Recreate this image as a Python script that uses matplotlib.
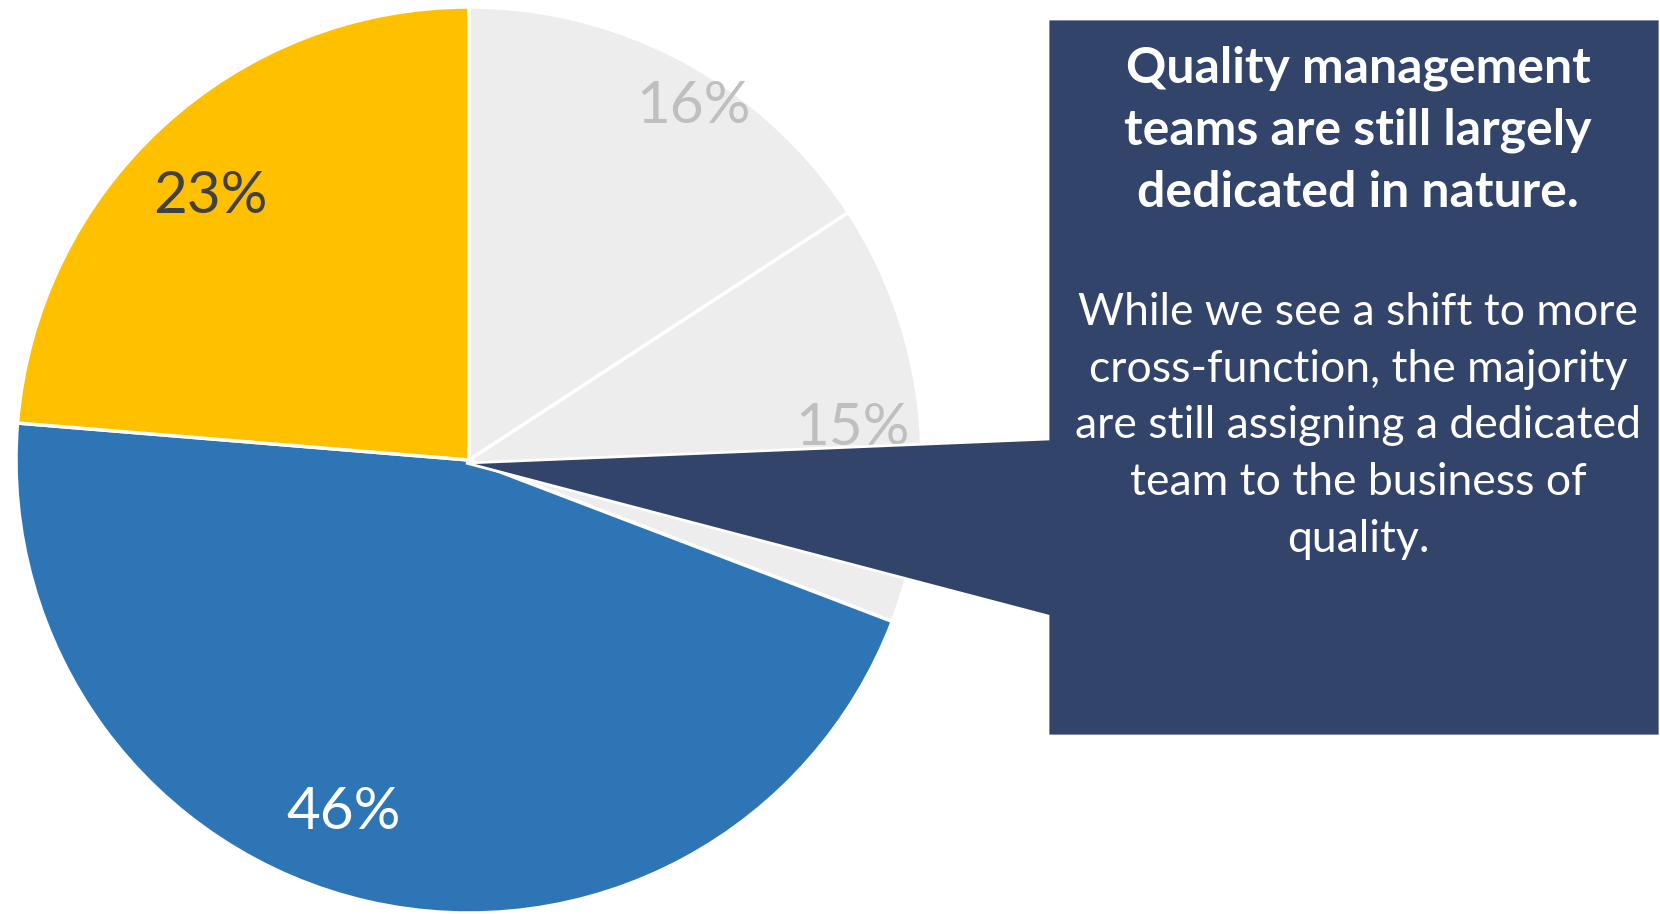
import numpy as np
import matplotlib
matplotlib.use("Agg")
import matplotlib.pyplot as plt
from matplotlib.patches import Polygon

# slices clockwise from 12 o'clock (sizes, labels as printed)
shares = [15.8, 15.0, 45.5, 23.7]
labels = ["16%", "15%", "46%", "23%"]
colors = ["#EDEDED", "#EDEDED", "#2E75B6", "#FFC000"]
label_colors = ["#BFBFBF", "#BFBFBF", "#FFFFFF", "#404040"]
label_dist = [0.93, 0.85, 0.82, 0.82]
label_turn = [-3.7, -1.0, -6.9, 1.5]   # degrees, nudges the label off the mid angle

title = "Quality management\nteams are still largely\ndedicated in nature."
body = ("While we see a shift to more\ncross-function, the majority\n"
        "are still assigning a dedicated\nteam to the business of\nquality.")

W, H = 1660, 914
plt.rcParams['font.family'] = ['Lato', 'DejaVu Sans']

fig = plt.figure(figsize=(16.6, 9.14), dpi=100)
ax = fig.add_axes([0, 0, 1, 1])

cx, cy, r = 469, H - 460, 453
wedges, _ = ax.pie(shares, colors=colors, startangle=90, counterclock=False,
                   center=(cx, cy), radius=r, frame=True,
                   wedgeprops=dict(edgecolor='white', linewidth=2.5))
ax.set_xlim(0, W)
ax.set_ylim(0, H)
ax.set_aspect('equal')
ax.axis('off')

for w, lab, col, d, t in zip(wedges, labels, label_colors, label_dist, label_turn):
    ang = np.deg2rad((w.theta1 + w.theta2) / 2 + t)
    ax.text(cx + d * r * np.cos(ang), cy + d * r * np.sin(ang) - 3, lab,
            ha='center', va='center', fontsize=42, color=col, zorder=3)

# callout box with pointer to the pie centre
bx0, bx1, by0, by1 = 1048, W, H - 19, H - 736
callout = Polygon([(bx0, by0), (bx1, by0), (bx1, by1), (bx0, by1),
                   (bx0, H - 616), (466, H - 463), (bx0, H - 439)],
                  closed=True, facecolor='#33446B', edgecolor='white',
                  linewidth=2, zorder=4)
ax.add_patch(callout)

tx = 1358
ax.text(tx, H - 130, title, ha='center', va='center', fontsize=36,
        fontweight='bold', color='white', linespacing=1.45, zorder=5)
ax.text(tx, H - 426, body, ha='center', va='center', fontsize=32,
        color='white', linespacing=1.47, zorder=5)

fig.savefig("out.png", dpi=100)
